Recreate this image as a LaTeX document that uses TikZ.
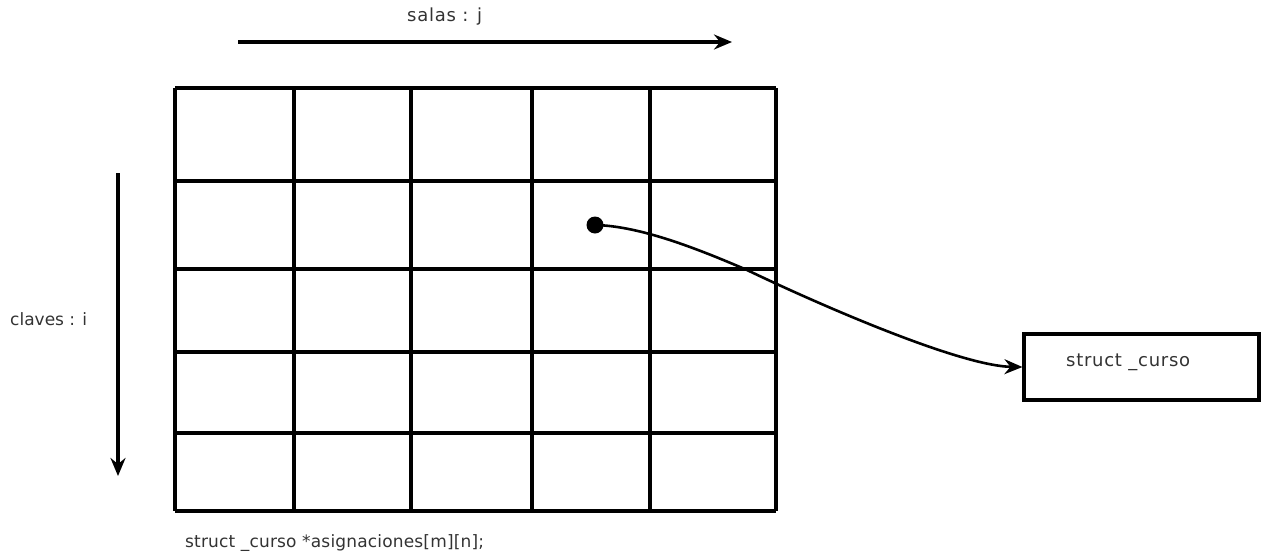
\documentclass[tikz,border=0pt]{standalone}
\usepackage{fontspec}
\setmainfont{DejaVu Sans}
\newfontfamily\widefont[LetterSpace=4]{DejaVu Sans}
\newfontfamily\declfont[LetterSpace=1]{DejaVu Sans}
\usetikzlibrary{arrows.meta}
\begin{document}
\begin{tikzpicture}[x=1pt,y=-1pt,
  gridline/.style={line width=3.2pt},
  axisarrow/.style={line width=3.2pt,-{Stealth[length=18pt,width=15pt,inset=6pt]}},
  label/.style={font=\widefont\fontsize{18}{21}\selectfont,text=black!80,inner sep=0pt},
  structbox/.style={draw,line width=3.2pt,minimum width=235pt,minimum height=66pt,inner sep=0pt}]
\useasboundingbox (0,0) rectangle (1261,555);
% grid
\foreach \x in {175,294,411,532,650,776} \draw[gridline] (\x,88) -- (\x,511);
\foreach \y in {88,181,269,352,433,511} \draw[gridline] (175,\y) -- (776,\y);
% axes
\coordinate (hs) at (238,42);
\coordinate (he) at (732,42);
\draw[axisarrow] (hs) -- (he);
\coordinate (vs) at (118,173);
\coordinate (ve) at (118,476);
\draw[axisarrow] (vs) -- (ve);
\node[label,anchor=west] (salas) at (407,17) {salas : j};
\node[label,anchor=west,font=\fontsize{17}{20}\selectfont] (claves) at (10,319) {claves : i};
\node[label,anchor=west,font=\declfont\fontsize{17}{20}\selectfont] (decl) at (185,543) {struct \_curso *asignaciones[m][n];};
% struct box
\node[structbox] (box) at (1141.5,367) {};
\node[label,anchor=west] (boxtxt) at (1066,362) {struct \_curso};
% pointer
\fill (595,225) circle (8.5pt) coordinate (dot);
\draw[line width=2.6pt,-{Stealth[length=18pt,width=15pt,inset=6pt]}] (dot) .. controls (640,226) and (697,248.5) .. (747,270) .. controls (820,305) and (960,366) .. (box.west);
\end{tikzpicture}
\end{document}
